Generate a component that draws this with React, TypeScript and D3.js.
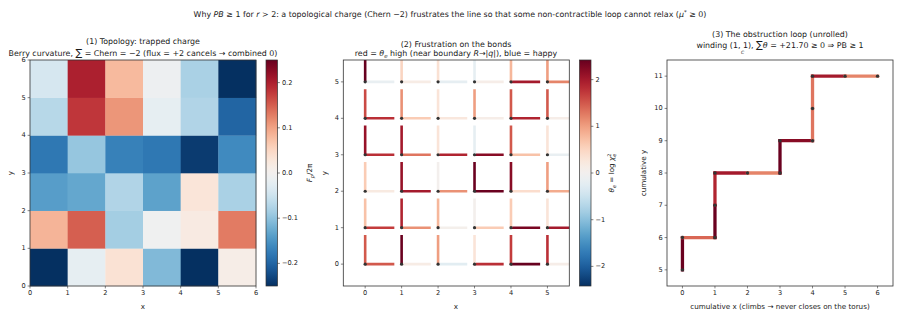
import React from "react";
import * as d3 from "d3";

// ---------- DATA ----------
// Panel 1: Berry curvature F_p/2π, rows indexed by y (0 = bottom), columns by x
const berryRows: number[][] = [
  [-0.25, -0.02, 0.035, -0.11, -0.25, 0.012],
  [0.085, 0.15, -0.085, -0.005, 0.02, 0.13],
  [-0.14, -0.13, -0.075, -0.135, 0.03, -0.08],
  [-0.18, -0.095, -0.17, -0.18, -0.24, -0.16],
  [-0.07, 0.18, 0.11, -0.02, -0.075, -0.2],
  [-0.04, 0.2, 0.08, -0.01, -0.08, -0.25],
];
const berryTicks = [-0.2, -0.1, 0.0, 0.1, 0.2];
const berryDomain = [-0.25, 0.25];

// Panel 2: theta on bonds, [y][x]
const hBond: number[][] = [
  [1.5, 0.15, -0.25, 1.8, 2.42, 0.1],
  [1.7, 1.1, 0.05, 0.6, 2.3, 2.0],
  [0.2, 2.0, 1.1, 2.4, 0.4, 0.9],
  [1.8, 1.3, 1.9, 2.2, 0.7, -0.15],
  [1.8, 0.6, 0.25, 0.1, 1.9, 0.1],
  [-0.15, 0.15, -0.2, 0.1, 2.0, 1.2],
];
const vBond: number[][] = [
  [1.5, 2.4, 1.0, 0.3, 1.7, 1.8],
  [0.7, 1.9, 0.8, 0.03, 0.6, 0.3],
  [0.6, 2.1, 0.02, 2.4, 2.2, 1.0],
  [2.1, 2.0, 0.3, -0.2, 1.5, 0.3],
  [1.6, 1.1, 0.3, 1.0, 1.5, 1.5],
  [2.42, 0.5, 0.35, -0.2, 0.8, 1.0],
];
const thetaTicks = [-2, -1, 0, 1, 2];
const thetaDomain = [-2.42, 2.42];
const siteTicks = [0, 1, 2, 3, 4, 5];

// Panel 3: unrolled obstruction loop
const loopX = [0, 0, 1, 1, 1, 2, 3, 3, 4, 4, 4, 5, 6];
const loopY = [5, 6, 6, 7, 8, 8, 8, 9, 9, 10, 11, 11, 11];
const loopTheta = [2.4, 1.4, 2.4, 1.9, 2.0, 1.2, 2.4, 2.2, 1.3, 1.3, 2.0, 1.2];
const loopXTicks = [0, 1, 2, 3, 4, 5, 6];
const loopYTicks = [5, 6, 7, 8, 9, 10, 11];

// ---------- STYLE ----------
const FONT = "DejaVu Sans, sans-serif";
const TICK_FS = 6.6;
const TITLE_FS = 7.9;
const TXT = "#1a1a1a";
const SPINE = "#333";
const cmap = (t: number) => d3.interpolateRdBu(1 - t);

const tickLen = 2.4;

function XAxis({ scale, ticks, y, fmt }: any) {
  return (
    <g>
      {ticks.map((t: number) => (
        <g key={t}>
          <line x1={scale(t)} x2={scale(t)} y1={y} y2={y + tickLen} stroke={SPINE} strokeWidth={0.6} />
          <text x={scale(t)} y={y + tickLen + 2} fontSize={TICK_FS} textAnchor="middle" dominantBaseline="hanging" fill={TXT}>
            {fmt ? fmt(t) : String(t)}
          </text>
        </g>
      ))}
    </g>
  );
}
function YAxis({ scale, ticks, x, fmt }: any) {
  return (
    <g>
      {ticks.map((t: number) => (
        <g key={t}>
          <line x1={x - tickLen} x2={x} y1={scale(t)} y2={scale(t)} stroke={SPINE} strokeWidth={0.6} />
          <text x={x - tickLen - 2} y={scale(t)} fontSize={TICK_FS} textAnchor="end" dominantBaseline="central" fill={TXT}>
            {fmt ? fmt(t) : String(t)}
          </text>
        </g>
      ))}
    </g>
  );
}
function Colorbar({ id, x0, x1, scale, ticks, fmt }: any) {
  const [y1, y0] = scale.range();
  const stops = d3.range(0, 41).map((i) => i / 40);
  return (
    <g>
      <defs>
        <linearGradient id={id} x1="0" y1="1" x2="0" y2="0">
          {stops.map((s) => (
            <stop key={s} offset={s} stopColor={cmap(s)} />
          ))}
        </linearGradient>
      </defs>
      <rect x={x0} y={y0} width={x1 - x0} height={y1 - y0} fill={`url(#${id})`} stroke={SPINE} strokeWidth={0.7} />
      {ticks.map((t: number) => (
        <g key={t}>
          <line x1={x1} x2={x1 + tickLen} y1={scale(t)} y2={scale(t)} stroke={SPINE} strokeWidth={0.6} />
          <text x={x1 + tickLen + 2} y={scale(t)} fontSize={TICK_FS} dominantBaseline="central" fill={TXT}>
            {fmt(t)}
          </text>
        </g>
      ))}
    </g>
  );
}

const minus = (s: string) => s.replace("-", "\u2212");

export default function App() {
  // Panel 1
  const x1 = d3.scaleLinear().domain([0, 6]).range([30, 256]);
  const y1 = d3.scaleLinear().domain([0, 6]).range([286, 60]);
  const c1 = d3.scaleLinear().domain(berryDomain).range([0, 1]).clamp(true);
  const cb1 = d3.scaleLinear().domain(berryDomain).range([286, 60]);

  // Panel 2
  const x2 = d3.scaleLinear().domain([-0.6, 5.6]).range([343.3, 569.3]);
  const y2 = d3.scaleLinear().domain([-0.6, 5.6]).range([286, 60]);
  const c2 = d3.scaleLinear().domain(thetaDomain).range([0, 1]).clamp(true);
  const cb2 = d3.scaleLinear().domain(thetaDomain).range([286, 60]);

  // Panel 3
  const x3 = d3.scaleLinear().domain([-0.475, 6.475]).range([667, 893]);
  const y3 = d3.scaleLinear().domain([4.5, 11.5]).range([286, 60]);

  const bondLen = 0.8;

  return (
    <svg width={900} height={317} style={{ position: "absolute", left: 0, top: 0, background: "#fff" }} fontFamily={FONT}>
      <rect width={900} height={317} fill="#fff" />
      {/* Main title */}
      <text x={450} y={17} fontSize={TITLE_FS} textAnchor="middle" fill={TXT}>
        Why <tspan fontStyle="italic">PB</tspan> ≥ 1 for <tspan fontStyle="italic">r</tspan> &gt; 2: a topological charge (Chern −2) frustrates the line so that some non-contractible loop cannot relax (
        <tspan fontStyle="italic">μ</tspan>
        <tspan fontSize={5.5} dy={-3}>*</tspan>
        <tspan dy={3}> ≥ 0)</tspan>
      </text>

      {/* ---------- Panel 1 ---------- */}
      <text x={143} y={44} fontSize={TITLE_FS} textAnchor="middle" fill={TXT}>(1) Topology: trapped charge</text>
      <text x={143} y={55.5} fontSize={TITLE_FS} textAnchor="middle" fill={TXT}>
        Berry curvature, <tspan fontSize={10}>∑</tspan> = Chern = −2 (flux  = +2 cancels → combined 0)
      </text>
      {berryRows.map((row, j) =>
        row.map((v, i) => (
          <rect key={`b${i}-${j}`} x={x1(i)} y={y1(j + 1)} width={x1(i + 1) - x1(i) + 0.3} height={y1(j) - y1(j + 1) + 0.3} fill={cmap(c1(v))} />
        ))
      )}
      <rect x={30} y={60} width={226} height={226} fill="none" stroke={SPINE} strokeWidth={0.8} />
      <XAxis scale={x1} ticks={[0, 1, 2, 3, 4, 5, 6]} y={286} />
      <YAxis scale={y1} ticks={[0, 1, 2, 3, 4, 5, 6]} x={30} />
      <text x={143} y={309} fontSize={TICK_FS + 0.6} textAnchor="middle" fill={TXT}>x</text>
      <text transform="translate(13,173) rotate(-90)" fontSize={TICK_FS + 0.6} textAnchor="middle" fill={TXT}>y</text>
      <Colorbar id="cb1" x0={266} x1={277.5} scale={cb1} ticks={berryTicks} fmt={(t: number) => minus(d3.format(".1f")(t))} />
      <text transform="translate(312,173) rotate(-90)" fontSize={TICK_FS + 0.6} textAnchor="middle" fill={TXT}>
        <tspan fontStyle="italic">F</tspan>
        <tspan fontSize={5} dy={1.5} fontStyle="italic">p</tspan>
        <tspan dy={-1.5}>/2π</tspan>
      </text>

      {/* ---------- Panel 2 ---------- */}
      <text x={456} y={46.5} fontSize={TITLE_FS} textAnchor="middle" fill={TXT}>(2) Frustration on the bonds</text>
      <text x={456} y={56} fontSize={TITLE_FS} textAnchor="middle" fill={TXT}>
        red  = <tspan fontStyle="italic">θ</tspan><tspan fontSize={5.5} dy={1.5} fontStyle="italic">e</tspan><tspan dy={-1.5}> high (near boundary </tspan>
        <tspan fontStyle="italic">R</tspan>→|<tspan fontStyle="italic">q</tspan>|), blue  =  happy
      </text>
      <defs>
        <clipPath id="clip2">
          <rect x={343.3} y={60} width={226} height={226} />
        </clipPath>
      </defs>
      <g clipPath="url(#clip2)">
        {hBond.map((row, j) =>
          row.map((v, i) => (
            <line key={`h${i}-${j}`} x1={x2(i)} x2={x2(i + bondLen)} y1={y2(j)} y2={y2(j)} stroke={cmap(c2(v))} strokeWidth={2.6} />
          ))
        )}
        {vBond.map((row, j) =>
          row.map((v, i) => (
            <line key={`v${i}-${j}`} x1={x2(i)} x2={x2(i)} y1={y2(j)} y2={y2(j + bondLen)} stroke={cmap(c2(v))} strokeWidth={2.6} />
          ))
        )}
        {siteTicks.map((j) =>
          siteTicks.map((i) => <circle key={`d${i}-${j}`} cx={x2(i)} cy={y2(j)} r={1.6} fill="#333" />)
        )}
      </g>
      <rect x={343.3} y={60} width={226} height={226} fill="none" stroke={SPINE} strokeWidth={0.8} />
      <XAxis scale={x2} ticks={siteTicks} y={286} />
      <YAxis scale={y2} ticks={siteTicks} x={343.3} />
      <text x={456} y={309} fontSize={TICK_FS + 0.6} textAnchor="middle" fill={TXT}>x</text>
      <text transform="translate(327,173) rotate(-90)" fontSize={TICK_FS + 0.6} textAnchor="middle" fill={TXT}>y</text>
      <Colorbar id="cb2" x0={579.5} x1={591} scale={cb2} ticks={thetaTicks} fmt={(t: number) => minus(String(t))} />
      <text transform="translate(614,173) rotate(-90)" fontSize={TICK_FS + 0.6} textAnchor="middle" fill={TXT}>
        <tspan fontStyle="italic">θ</tspan>
        <tspan fontSize={5} dy={1.5} fontStyle="italic">e</tspan>
        <tspan dy={-1.5}> = log </tspan>
        <tspan fontStyle="italic">χ</tspan>
        <tspan fontSize={5} dy={1.5} fontStyle="italic">e</tspan>
        <tspan fontSize={5} dx={-3} dy={-5}>2</tspan>
      </text>

      {/* ---------- Panel 3 ---------- */}
      <text x={780} y={37} fontSize={TITLE_FS} textAnchor="middle" fill={TXT}>(3) The obstruction loop (unrolled)</text>
      <text x={780} y={48} fontSize={TITLE_FS} textAnchor="middle" fill={TXT}>
        winding (1, 1), <tspan fontSize={10}>∑</tspan><tspan fontStyle="italic">θ</tspan> = +21.70 ≥ 0 ⇒  PB ≥ 1
      </text>
      <text x={741} y={54} fontSize={4.5} fontStyle="italic" fill={TXT}>C</text>
      {loopTheta.map((v, k) => (
        <line key={`l${k}`} x1={x3(loopX[k])} y1={y3(loopY[k])} x2={x3(loopX[k + 1])} y2={y3(loopY[k + 1])} stroke={cmap(c2(v))} strokeWidth={3.3} strokeLinecap="square" />
      ))}
      {loopX.map((xv, k) => (
        <circle key={`p${k}`} cx={x3(xv)} cy={y3(loopY[k])} r={1.7} fill="#333" />
      ))}
      <rect x={667} y={60} width={226} height={226} fill="none" stroke={SPINE} strokeWidth={0.8} />
      <XAxis scale={x3} ticks={loopXTicks} y={286} />
      <YAxis scale={y3} ticks={loopYTicks} x={667} />
      <text x={780} y={309} fontSize={TICK_FS + 0.6} textAnchor="middle" fill={TXT}>cumulative x  (climbs → never closes on the torus)</text>
      <text transform="translate(646,173) rotate(-90)" fontSize={TICK_FS + 0.6} textAnchor="middle" fill={TXT}>cumulative y</text>
    </svg>
  );
}
